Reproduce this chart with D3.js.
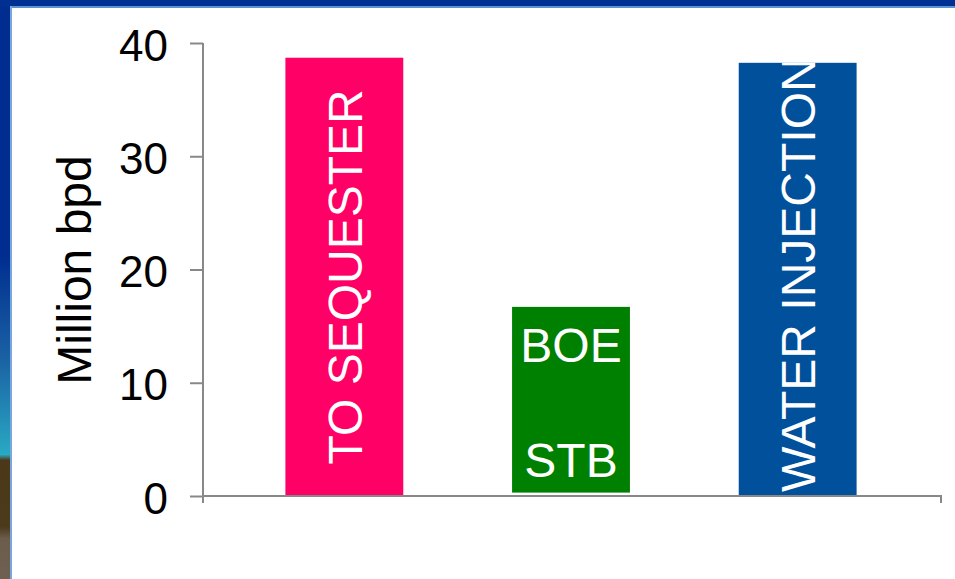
<!DOCTYPE html>
<html>
<head>
<meta charset="utf-8">
<script src="https://cdn.jsdelivr.net/npm/d3@7"></script>
<style>
  html, body { margin: 0; padding: 0; background: #ffffff; }
  svg { display: block; font-family: "Liberation Sans", Arial, sans-serif; }
</style>
</head>
<body>
<svg id="chart" width="955" height="579"></svg>
<script>
// ---- data ----
const categories = ["TO SEQUESTER", "BOE/STB", "WATER INJECTION"];
const barStart = [0, 0.3, 0];
const barEnd = [38.7, 16.7, 38.25];
const barColors = ["#ff0066", "#008000", "#00509c"];
const barLabels = [["TO SEQUESTER"], ["BOE", "STB"], ["WATER INJECTION"]];
const yTicks = [0, 10, 20, 30, 40];
const yTitle = "Million bpd";

const svg = d3.select("#chart");
const W = 955, H = 579;

// ---- slide frame ----
const defs = svg.append("defs");
const lg = defs.append("linearGradient").attr("id", "leftGrad")
  .attr("x1", 0).attr("y1", 0).attr("x2", 0).attr("y2", 1);
[[0, "#002d8f"], [0.44, "#002d8f"], [0.62, "#1a62a4"], [0.785, "#29a9c2"],
 [0.795, "#4a3818"], [0.91, "#4b3a1c"], [0.93, "#6b5c4c"], [1, "#6e6050"]]
  .forEach(([o, c]) => lg.append("stop").attr("offset", o).attr("stop-color", c));

svg.append("rect").attr("x", 0).attr("y", 0).attr("width", 11).attr("height", H).attr("fill", "url(#leftGrad)");
svg.append("rect").attr("x", 0).attr("y", 0).attr("width", W).attr("height", 7).attr("fill", "#003092");
svg.append("rect").attr("x", 10).attr("y", 6).attr("width", W - 10).attr("height", 2).attr("fill", "#5f8fd4");
svg.append("rect").attr("x", 10).attr("y", 6).attr("width", 2).attr("height", H - 6).attr("fill", "#7aa6df");

// ---- scales ----
const y = d3.scaleLinear().domain([0, 40]).range([496, 43]);
const x = d3.scaleBand().domain(categories).range([231, 911]).paddingInner(0.48).paddingOuter(0.24);
const axisLeft = 203, axisRight = 941;
const axisColor = "#888888";
const fontSize = 48;

// ---- bars ----
const g = svg.append("g");
categories.forEach((c, i) => {
  const x0 = x(c), bw = x.bandwidth();
  const yTop = y(barEnd[i]), yBot = y(barStart[i]);
  const cx = x0 + bw / 2;
  defs.append("clipPath").attr("id", "clip" + i)
    .append("rect").attr("x", x0).attr("y", yTop).attr("width", bw).attr("height", yBot - yTop);
  g.append("rect").attr("x", x0).attr("y", yTop).attr("width", bw).attr("height", yBot - yTop)
    .attr("fill", barColors[i]);

  const labs = barLabels[i];
  const lg2 = g.append("g").attr("clip-path", "url(#clip" + i + ")");
  if (labs.length === 1) {
    const t = lg2.append("text")
      .attr("fill", "#ffffff").attr("font-size", fontSize)
      .text(labs[0]);
    const len = t.node().getComputedTextLength();
    const h = yBot - yTop;
    let ty, anchor;
    if (len > h) { ty = yBot - 4; anchor = "start"; }
    else { ty = (yTop + yBot) / 2; anchor = "middle"; }
    t.attr("text-anchor", anchor)
     .attr("transform", `translate(${cx + 17.5},${ty}) rotate(-90)`);
  } else {
    lg2.append("text").attr("x", cx).attr("y", yTop + 55)
      .attr("text-anchor", "middle").attr("fill", "#ffffff").attr("font-size", fontSize)
      .text(labs[0]);
    lg2.append("text").attr("x", cx).attr("y", yBot - 16)
      .attr("text-anchor", "middle").attr("fill", "#ffffff").attr("font-size", fontSize)
      .text(labs[1]);
  }
});

// ---- axes ----
const yAxis = d3.axisLeft(y).tickValues(yTicks).tickSize(13).tickPadding(22).tickFormat(d3.format("d"));
const ya = svg.append("g").attr("transform", `translate(${axisLeft},0)`).call(yAxis);
ya.select(".domain").remove();
ya.selectAll(".tick line").attr("stroke", axisColor).attr("stroke-width", 2);
ya.selectAll(".tick text").attr("font-size", 44).attr("fill", "#000000")
  .attr("font-family", "Liberation Sans, Arial, sans-serif").attr("dy", null).attr("y", 17);

// y axis line
svg.append("line").attr("x1", axisLeft).attr("x2", axisLeft).attr("y1", y(40)).attr("y2", y(0) + 7)
  .attr("stroke", axisColor).attr("stroke-width", 2);
// x axis line + end ticks
svg.append("line").attr("x1", axisLeft).attr("x2", axisRight).attr("y1", y(0)).attr("y2", y(0))
  .attr("stroke", axisColor).attr("stroke-width", 2);
svg.append("line").attr("x1", axisRight).attr("x2", axisRight).attr("y1", y(0) - 1).attr("y2", y(0) + 7)
  .attr("stroke", axisColor).attr("stroke-width", 2);

// y title
svg.append("text").attr("transform", "translate(91,270) rotate(-90)")
  .attr("text-anchor", "middle").attr("font-size", 48).attr("fill", "#000000")
  .text(yTitle);
</script>
</body>
</html>
